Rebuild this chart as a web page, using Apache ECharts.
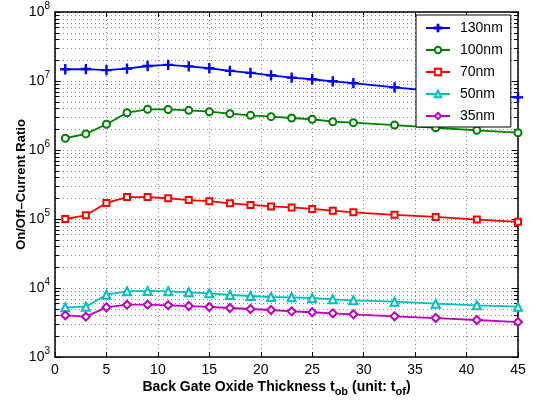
<!DOCTYPE html>
<html>
<head>
<meta charset="utf-8">
<script src="https://cdn.jsdelivr.net/npm/echarts@6/dist/echarts.min.js"></script>
<style>
  html, body { margin: 0; padding: 0; background: #fff; }
  #chart { width: 536px; height: 405px; }
</style>
</head>
<body>
<div id="chart"></div>
<script>
// Back-gate oxide thickness (in units of t_of)
const thickness = [1, 3, 5, 7, 9, 11, 13, 15, 17, 19, 21, 23, 25, 27, 29, 33, 37, 41, 45];

// On/Off current ratio for each channel length
const ratio130 = [1.48e7, 1.49e7, 1.44e7, 1.51e7, 1.65e7, 1.71e7, 1.63e7, 1.53e7, 1.40e7, 1.31e7,
                  1.21e7, 1.12e7, 1.06e7, 9.9e6, 9.3e6, 8.1e6, 7.1e6, 6.4e6, 5.8e6];
const ratio100 = [1.48e6, 1.71e6, 2.36e6, 3.47e6, 3.89e6, 3.87e6, 3.76e6, 3.59e6, 3.36e6, 3.18e6,
                  3.04e6, 2.91e6, 2.79e6, 2.57e6, 2.49e6, 2.30e6, 2.10e6, 1.93e6, 1.78e6];
const ratio70  = [1.0e5, 1.13e5, 1.71e5, 2.08e5, 2.08e5, 2.0e5, 1.88e5, 1.81e5, 1.69e5, 1.60e5,
                  1.52e5, 1.47e5, 1.40e5, 1.32e5, 1.25e5, 1.15e5, 1.07e5, 9.8e4, 9.1e4];
const ratio50  = [5.25e3, 5.36e3, 8.0e3, 8.96e3, 9.06e3, 8.96e3, 8.67e3, 8.37e3, 7.92e3, 7.66e3,
                  7.41e3, 7.33e3, 7.16e3, 6.85e3, 6.63e3, 6.33e3, 5.92e3, 5.61e3, 5.36e3];
const ratio35  = [4.02e3, 3.84e3, 5.25e3, 5.73e3, 5.73e3, 5.61e3, 5.48e3, 5.31e3, 5.13e3, 4.96e3,
                  4.80e3, 4.59e3, 4.45e3, 4.30e3, 4.16e3, 3.89e3, 3.67e3, 3.44e3, 3.21e3];

const seriesNames = ['130nm', '100nm', '70nm', '50nm', '35nm'];
const seriesColors = ['#0000ff', '#008000', '#ff0000', '#00bfbf', '#bf00bf'];

// Minor log gridline values (2..9 within each decade)
const minorValues = [];
for (let e = 3; e < 8; e++) {
  for (let m = 2; m <= 9; m++) minorValues.push(m * Math.pow(10, e));
}

const FONT = 'Liberation Sans, Arial, Helvetica, sans-serif';
const plusPath = 'path://M4.4,0H5.6V4.4H10V5.6H5.6V10H4.4V5.6H0V4.4H4.4Z';

function pairs(ys) { return thickness.map((x, i) => [x, ys[i]]); }

const symbols = [plusPath, 'emptyCircle', 'emptyRect', 'emptyTriangle', 'emptyDiamond'];
const symbolSizes = [9, 7, 6, 8, 8];
const allData = [ratio130, ratio100, ratio70, ratio50, ratio35];

const lineSeries = allData.map((ys, i) => ({
  name: seriesNames[i],
  type: 'line',
  data: pairs(ys),
  symbol: symbols[i],
  symbolSize: symbolSizes[i],
  showAllSymbol: true,
  color: seriesColors[i],
  lineStyle: { width: 1.8, color: seriesColors[i] },
  itemStyle: { color: seriesColors[i], borderColor: seriesColors[i], borderWidth: 1.3 },
  z: 2,
  animation: false
}));

const tickLabelFmt = v => '{b|10}{s|' + Math.round(Math.log10(v)) + '}';

const chart = echarts.init(document.getElementById('chart'), null, { renderer: 'canvas' });

chart.setOption({
  backgroundColor: '#fff',
  animation: false,
  grid: { left: 55, right: 18, top: 12, bottom: 48, containLabel: false, outerBoundsMode: 'none' },
  legend: {
    orient: 'vertical',
    left: 416,
    top: 15,
    width: 97,
    z: 20,
    padding: [6, 8, 4, 9],
    itemWidth: 24,
    itemHeight: 8,
    itemGap: 8,
    backgroundColor: '#fff',
    borderColor: '#000',
    borderWidth: 1,
    borderRadius: 0,
    data: seriesNames,
    textStyle: { fontFamily: FONT, fontSize: 14, color: '#000', padding: [0, 0, 0, 5] }
  },
  xAxis: [
    {
      type: 'value', min: 0, max: 45, interval: 5,
      name: '{n|Back Gate Oxide Thickness t}{sub|ob}{n| (unit: t}{sub|of}{n|)}',
      nameLocation: 'middle', nameGap: 21, nameMoveOverlap: false,
      nameTextStyle: {
        fontFamily: FONT, color: '#000', padding: [0, 20, 0, 0],
        rich: {
          n: { fontFamily: FONT, fontSize: 14, fontWeight: 'bold', color: '#000' },
          sub: { fontFamily: FONT, fontSize: 11, fontWeight: 'bold', color: '#000', verticalAlign: 'top', padding: [8, 0, 0, 0] }
        }
      },
      axisLine: { show: true, lineStyle: { color: '#000', width: 1.5 } },
      axisTick: { show: true, inside: true, length: 5, lineStyle: { color: '#000' } },
      axisLabel: { fontFamily: FONT, fontSize: 14, color: '#000', margin: 6 },
      splitLine: { show: true, lineStyle: { color: '#888', type: [1, 3], width: 1 } }
    },
    {
      type: 'value', min: 0, max: 45, interval: 5, position: 'top',
      axisLine: { show: true, onZero: false, lineStyle: { color: '#000', width: 1.5 } },
      axisTick: { show: true, inside: true, length: 5, lineStyle: { color: '#000' } },
      axisLabel: { show: false },
      splitLine: { show: false }
    }
  ],
  yAxis: [
    {
      type: 'log', logBase: 10, min: 1e3, max: 1e8,
      name: 'On/Off\u2013Current Ratio',
      nameLocation: 'middle', nameGap: 27, nameMoveOverlap: false,
      nameTextStyle: { fontFamily: FONT, fontSize: 13, fontWeight: 'bold', color: '#000' },
      axisLine: { show: true, onZero: false, lineStyle: { color: '#000', width: 1.5 } },
      axisTick: { show: true, inside: true, length: 6, lineStyle: { color: '#000' } },
      axisLabel: {
        formatter: tickLabelFmt, margin: 5,
        rich: {
          b: { fontFamily: FONT, fontSize: 14, color: '#000' },
          s: { fontFamily: FONT, fontSize: 10, color: '#000', verticalAlign: 'top', padding: [0, 0, 11, 0] }
        }
      },
      splitLine: { show: true, lineStyle: { color: '#888', type: [1, 3], width: 1 } }
    },
    {
      type: 'log', logBase: 10, min: 1e3, max: 1e8, position: 'right',
      axisLine: { show: true, onZero: false, lineStyle: { color: '#000', width: 1.5 } },
      axisTick: { show: true, inside: true, length: 6, lineStyle: { color: '#000' } },
      axisLabel: { show: false },
      splitLine: { show: false }
    }
  ],
  series: [
    {
      // minor log gridlines with inward minor ticks on both vertical edges
      type: 'custom',
      name: 'minorGrid',
      silent: true,
      z: 1,
      data: minorValues.map(v => [0, v]),
      renderItem: function (params, api) {
        const cs = params.coordSys;
        const y = Math.round(api.coord([0, api.value(1)])[1]) + 0.5;
        return {
          type: 'group',
          children: [
            { type: 'line', shape: { x1: cs.x, y1: y, x2: cs.x + cs.width, y2: y },
              style: { stroke: '#888', lineWidth: 1, lineDash: [1, 3] } },
            { type: 'line', shape: { x1: cs.x, y1: y, x2: cs.x + 4, y2: y },
              style: { stroke: '#000', lineWidth: 1 } },
            { type: 'line', shape: { x1: cs.x + cs.width - 4, y1: y, x2: cs.x + cs.width, y2: y },
              style: { stroke: '#000', lineWidth: 1 } }
          ]
        };
      }
    }
  ].concat(lineSeries)
});
</script>
</body>
</html>
